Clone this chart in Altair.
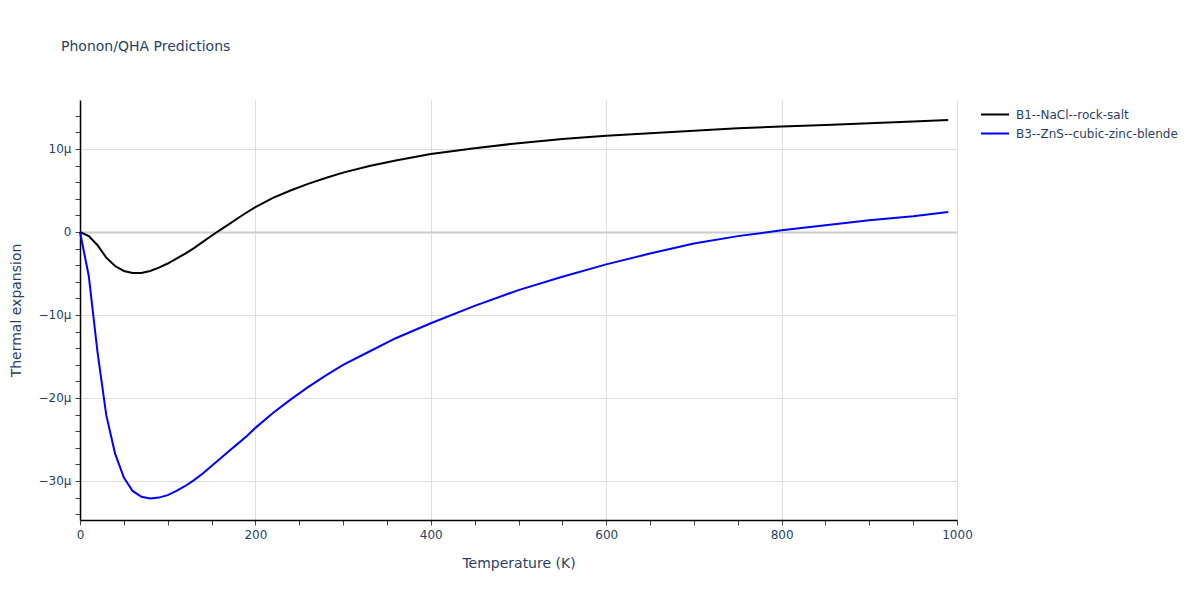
import altair as alt
import pandas as pd

temps_nacl = [0, 10, 20, 30, 40, 50, 60, 70, 80, 90, 100, 110, 120, 130, 140, 150, 160, 170, 180, 190,
              200, 220, 240, 260, 280, 300, 330, 360, 400, 450, 500, 550, 600, 650, 700, 750, 800, 850,
              900, 950, 990]
alpha_nacl = [0.0, -0.5, -1.6, -3.1, -4.1, -4.7, -4.95, -4.95, -4.7, -4.3, -3.8, -3.2, -2.6, -1.95, -1.2,
              -0.45, 0.25, 0.95, 1.65, 2.35, 3.0, 4.1, 5.0, 5.8, 6.5, 7.15, 7.95, 8.6, 9.4, 10.1, 10.7,
              11.2, 11.6, 11.9, 12.2, 12.5, 12.7, 12.9, 13.1, 13.3, 13.5]

temps_zns = [0, 10, 20, 30, 40, 50, 60, 70, 80, 90, 100, 110, 120, 130, 140, 150, 160, 170, 180, 190,
             200, 220, 240, 260, 280, 300, 330, 360, 400, 450, 500, 550, 600, 650, 700, 750, 800, 850,
             900, 950, 990]
alpha_zns = [0.0, -5.3, -14.5, -22.1, -26.7, -29.6, -31.2, -31.9, -32.1, -32.0, -31.7, -31.2, -30.6,
             -29.9, -29.1, -28.2, -27.3, -26.4, -25.5, -24.6, -23.6, -21.8, -20.2, -18.7, -17.3, -16.0,
             -14.4, -12.8, -11.0, -8.9, -7.0, -5.4, -3.9, -2.6, -1.4, -0.5, 0.2, 0.8, 1.4, 1.9, 2.4]

series_names = ["B1--NaCl--rock-salt", "B3--ZnS--cubic-zinc-blende"]
series_colors = ["#000000", "#0000ff"]

df = pd.concat([
    pd.DataFrame({"T": temps_nacl, "alpha": alpha_nacl, "structure": series_names[0]}),
    pd.DataFrame({"T": temps_zns, "alpha": alpha_zns, "structure": series_names[1]}),
])

TEXT = "#2a3f5f"
FONT = "DejaVu Sans"

x_ticks = list(range(0, 1001, 50))
y_ticks = list(range(-34, 15, 2))

chart = alt.Chart(df).mark_line(strokeWidth=2).encode(
    x=alt.X("T:Q", scale=alt.Scale(domain=[0, 1000], nice=False, zero=False),
            axis=alt.Axis(
                title="Temperature (K)", values=x_ticks, format="d",
                labelExpr="datum.value % 200 === 0 ? datum.label : ''",
                labelOverlap=False, labelBound=False, labelFlush=False,
                gridOpacity={"condition": {"test": "datum.value % 200 === 0 && datum.value > 0", "value": 1}, "value": 0},
                gridColor="#dedede", gridWidth=1,
                tickSize=5, tickColor="#444444", domainColor="#000000", domainWidth=1.5,
                labelPadding=4, titlePadding=16)),
    y=alt.Y("alpha:Q", scale=alt.Scale(domain=[-34.7, 15.9], nice=False, zero=False),
            axis=alt.Axis(
                title="Thermal expansion", values=y_ticks,
                labelExpr="datum.value % 10 === 0 ? (datum.value === 0 ? '0' : replace(format(datum.value, 'd'), '-', '\u2212') + '\u03bc') : ''",
                labelOverlap=False, labelBound=False, labelFlush=False,
                gridOpacity={"condition": {"test": "datum.value % 10 === 0", "value": 1}, "value": 0},
                gridColor={"condition": {"test": "datum.value === 0", "value": "#cccccc"}, "value": "#dedede"},
                gridWidth={"condition": {"test": "datum.value === 0", "value": 2}, "value": 1},
                tickSize=5, tickColor="#444444", domainColor="#000000", domainWidth=1.5,
                labelPadding=4, titlePadding=15)),
    color=alt.Color("structure:N",
                    scale=alt.Scale(domain=series_names, range=series_colors),
                    legend=alt.Legend(title=None, orient="none", legendX=900, legendY=7,
                                      symbolType="stroke", symbolSize=784, symbolStrokeWidth=2,
                                      clipHeight=15, rowPadding=4, labelOffset=6, labelLimit=300,
                                      labelFontSize=12, labelColor=TEXT, labelFont=FONT)),
).properties(
    width=877, height=420,
    title=alt.TitleParams("Phonon/QHA Predictions", anchor="start", frame="group", dx=-19,
                          offset=46, fontSize=14, font=FONT, color=TEXT, fontWeight="normal"),
    padding={"left": 72, "top": 92, "right": 235, "bottom": 64},
    autosize=alt.AutoSizeParams(type="none"),
).configure_axis(
    labelFont=FONT, labelFontSize=12, labelColor=TEXT,
    titleFont=FONT, titleFontSize=14, titleColor=TEXT, titleFontWeight="normal",
).configure_view(stroke=None)

chart.save("out.html", embed_options={"renderer": "svg", "actions": False})
